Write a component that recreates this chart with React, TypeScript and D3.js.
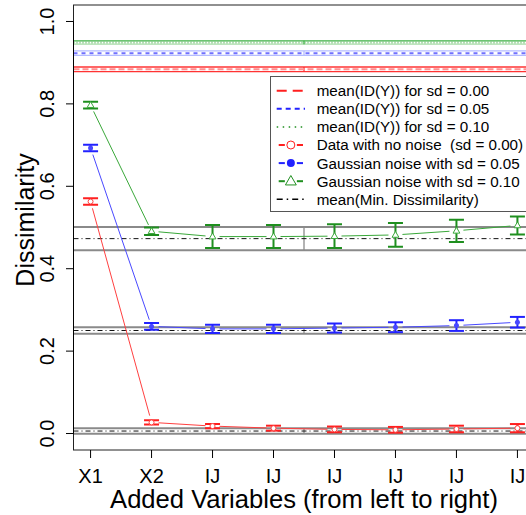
import React from "react";
import * as d3 from "d3";

// x categories and tick labels
const positions = [1, 2, 3, 4, 5, 6, 7, 8];
const tickLabels = ["X1", "X2", "IJ", "IJ", "IJ", "IJ", "IJ", "IJ"];
const yTicks = [0, 0.2, 0.4, 0.6, 0.8, 1.0];

// series: mean and half error bar
const noNoiseMean = [0.563, 0.027, 0.018, 0.013, 0.01, 0.009, 0.011, 0.013];
const noNoiseErr = [0.008, 0.005, 0.005, 0.006, 0.007, 0.007, 0.008, 0.01];
const sd05Mean = [0.693, 0.26, 0.254, 0.254, 0.256, 0.258, 0.262, 0.27];
const sd05Err = [0.008, 0.008, 0.01, 0.01, 0.011, 0.012, 0.013, 0.013];
const sd10Mean = [0.797, 0.491, 0.478, 0.478, 0.479, 0.482, 0.492, 0.505];
const sd10Err = [0.008, 0.009, 0.028, 0.028, 0.029, 0.029, 0.027, 0.022];

// reference bands (mean +/- sd)
const idMeans = [0.884, 0.923, 0.949];
const idSds = [0.0055, 0.0055, 0.004];
const minDisMeans = [0.006, 0.25, 0.473];
const minDisSds = [0.0067, 0.008, 0.028];

const legendLabels = [
  "mean(ID(Y)) for sd = 0.00",
  "mean(ID(Y)) for sd = 0.05",
  "mean(ID(Y)) for sd = 0.10",
  "Data with no noise  (sd = 0.00)",
  "Gaussian noise with sd = 0.05",
  "Gaussian noise with sd = 0.10",
  "mean(Min. Dissimilarity)",
];

const W = 526;
const H = 515;
const left = 73.5;
const right = 534.5;
const top = 5;
const bottom = 450;
const font = "'Liberation Sans', Arial, Helvetica, sans-serif";

const RED = "#ff1f1f";
const BLUE = "#2222ff";
const GREEN = "#1f8f1f";

const x = d3.scaleLinear().domain([0.72, 8.28]).range([left, right]);
const y = d3.scaleLinear().domain([-0.04, 1.04]).range([bottom, top]);

const seriesList = [
  { mean: noNoiseMean, err: noNoiseErr, color: RED, line: "#ff4040", shape: "circle" },
  { mean: sd05Mean, err: sd05Err, color: BLUE, line: "#4848ff", shape: "dot" },
  { mean: sd10Mean, err: sd10Err, color: GREEN, line: "#3aa83a", shape: "triangle" },
];

const idStyles = [
  { edge: "#ff3333", edge2: "#ff3333", mid: "#ff9090", dash: "6,3" },
  { edge: "#b4bcff", edge2: "#b4bcff", mid: "#7070ff", dash: "4,4" },
  { edge: "#3cb043", edge2: "#a8dca8", mid: "#70c070", dash: "1,2" },
];

function Marker({ shape, cx, cy, color, size }: any) {
  if (shape === "circle")
    return <circle cx={cx} cy={cy} r={size} fill="white" stroke={color} strokeWidth={1} />;
  if (shape === "dot") return <circle cx={cx} cy={cy} r={size} fill={color} />;
  const tri = d3.symbol().type(d3.symbolTriangle).size(size * size * 3.2)();
  return (
    <path
      d={tri || ""}
      transform={`translate(${cx},${cy + size * 0.15})`}
      fill="white"
      stroke={color}
      strokeWidth={1}
    />
  );
}

function gapSegments(mean: number[]) {
  const gap = 7;
  const segs: number[][] = [];
  for (let i = 0; i < mean.length - 1; i++) {
    const x1 = x(positions[i]);
    const y1 = y(mean[i]);
    const x2 = x(positions[i + 1]);
    const y2 = y(mean[i + 1]);
    const len = Math.hypot(x2 - x1, y2 - y1);
    if (len <= gap * 2) continue;
    const ux = (x2 - x1) / len;
    const uy = (y2 - y1) / len;
    segs.push([x1 + ux * gap, y1 + uy * gap, x2 - ux * gap, y2 - uy * gap]);
  }
  return segs;
}

export default function App() {
  const cap = 7.5;
  const rowY = (i: number) => 90.7 + i * 18.1;
  const legX0 = 276.7;
  const legX1 = 305;
  const legMid = (legX0 + legX1) / 2;

  return (
    <svg
      width={W}
      height={H}
      style={{ position: "absolute", left: 0, top: 0, background: "white" }}
      fontFamily={font}
    >
      <defs>
        <clipPath id="plotclip">
          <rect x={left} y={top} width={right - left} height={bottom - top} />
        </clipPath>
      </defs>

      <g clipPath="url(#plotclip)">
        {/* ID(Y) bands */}
        {idMeans.map((m, i) => {
          const s = idStyles[i];
          return (
            <g key={"id" + i}>
              <line x1={left} x2={right} y1={y(m + idSds[i])} y2={y(m + idSds[i])} stroke={s.edge} strokeWidth={1.3} />
              <line x1={left} x2={right} y1={y(m - idSds[i])} y2={y(m - idSds[i])} stroke={s.edge2} strokeWidth={1.3} />
              <line x1={x(4.5)} x2={x(4.5)} y1={y(m + idSds[i])} y2={y(m - idSds[i])} stroke={s.edge} strokeWidth={1.3} />
              <line x1={left} x2={right} y1={y(m)} y2={y(m)} stroke={s.mid} strokeWidth={2} strokeDasharray={s.dash} />
            </g>
          );
        })}

        {/* min dissimilarity bands */}
        {minDisMeans.map((m, i) => (
          <g key={"md" + i}>
            <line x1={left} x2={right} y1={y(m + minDisSds[i])} y2={y(m + minDisSds[i])} stroke="#8a8a8a" strokeWidth={2} />
            <line x1={left} x2={right} y1={y(m - minDisSds[i])} y2={y(m - minDisSds[i])} stroke="#8a8a8a" strokeWidth={2} />
            <line x1={x(4.5)} x2={x(4.5)} y1={y(m + minDisSds[i])} y2={y(m - minDisSds[i])} stroke="#8a8a8a" strokeWidth={1.3} />
            <line x1={left} x2={right} y1={y(m)} y2={y(m)} stroke="#111" strokeWidth={1} strokeDasharray="5,3,1,3" />
          </g>
        ))}

        {/* series */}
        {seriesList.map((s, si) => (
          <g key={"s" + si}>
            {gapSegments(s.mean).map((g, i) => (
              <line key={i} x1={g[0]} y1={g[1]} x2={g[2]} y2={g[3]} stroke={s.line} strokeWidth={1} />
            ))}
            {s.mean.map((m, i) => {
              const cx = x(positions[i]);
              const hi = y(m + s.err[i]);
              const lo = y(m - s.err[i]);
              return (
                <g key={i} stroke={s.color} strokeWidth={2}>
                  <line x1={cx} x2={cx} y1={hi} y2={lo} />
                  <line x1={cx - cap} x2={cx + cap} y1={hi} y2={hi} />
                  <line x1={cx - cap} x2={cx + cap} y1={lo} y2={lo} />
                </g>
              );
            })}
            {s.mean.map((m, i) => (
              <Marker key={"m" + i} shape={s.shape} cx={x(positions[i])} cy={y(m)} color={s.line} size={2.5} />
            ))}
          </g>
        ))}
      </g>

      {/* plot box */}
      <rect x={left} y={top} width={right - left} height={bottom - top} fill="none" stroke="#222" strokeWidth={1} />

      {/* y axis */}
      <line x1={left} x2={left} y1={y(0)} y2={y(1)} stroke="#000" />
      {yTicks.map((t) => (
        <g key={t}>
          <line x1={left - 7.5} x2={left} y1={y(t)} y2={y(t)} stroke="#000" />
          <text
            transform={`translate(53.5,${y(t)}) rotate(-90)`}
            textAnchor="middle"
            fontSize={20}
          >
            {d3.format(".1f")(t)}
          </text>
        </g>
      ))}

      {/* x axis */}
      {positions.map((p, i) => (
        <g key={"xt" + i}>
          <line x1={x(p)} x2={x(p)} y1={bottom} y2={bottom + 8} stroke="#000" />
          <text x={x(p)} y={483} textAnchor="middle" fontSize={20}>
            {tickLabels[i]}
          </text>
        </g>
      ))}

      <text x={(left + right) / 2} y={508} textAnchor="middle" fontSize={25.6}>
        Added Variables (from left to right)
      </text>
      <text transform={`translate(34,220) rotate(-90)`} textAnchor="middle" fontSize={25}>
        Dissimilarity
      </text>

      {/* legend */}
      <rect x={270.5} y={76.5} width={300} height={135} fill="white" stroke="#555" strokeWidth={1} />
      <line x1={legX0} x2={legX1} y1={rowY(0)} y2={rowY(0)} stroke={RED} strokeWidth={2} strokeDasharray="10,6" />
      <line x1={legX0} x2={legX1} y1={rowY(1)} y2={rowY(1)} stroke={BLUE} strokeWidth={2} strokeDasharray="5,4" />
      <line x1={legX0} x2={legX1} y1={rowY(2)} y2={rowY(2)} stroke={GREEN} strokeWidth={1.5} strokeDasharray="1.5,4.5" />
      {seriesList.map((s, i) => (
        <g key={"lg" + i}>
          <line x1={legX0 + 2} x2={legMid - 6} y1={rowY(3 + i)} y2={rowY(3 + i)} stroke={s.color} strokeWidth={2} />
          <line x1={legMid + 6} x2={legX1 - 2} y1={rowY(3 + i)} y2={rowY(3 + i)} stroke={s.color} strokeWidth={2} />
          <Marker shape={s.shape} cx={legMid} cy={rowY(3 + i)} color={s.color} size={4} />
        </g>
      ))}
      <line x1={legX0} x2={legX1} y1={rowY(6)} y2={rowY(6)} stroke="#000" strokeWidth={1.5} strokeDasharray="6,4,1.5,4" />
      {legendLabels.map((l, i) => (
        <text key={l} x={316.7} y={rowY(i) + 5.4} fontSize={15.2} style={{ whiteSpace: "pre" }}>
          {l}
        </text>
      ))}
    </svg>
  );
}
